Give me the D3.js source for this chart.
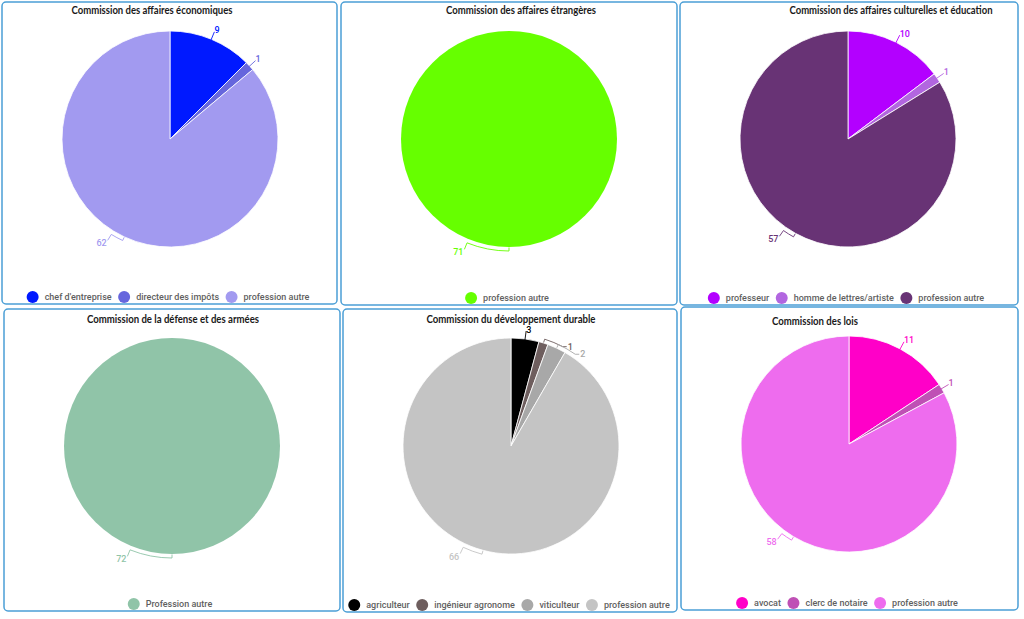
<!DOCTYPE html>
<html><head><meta charset="utf-8">
<script src="https://cdn.jsdelivr.net/npm/d3@7"></script>
<style>body{margin:0;background:#fff;} svg{display:block}</style>
</head><body>
<svg id="c" width="1024" height="619"></svg>
<script>
const titles = [
  "Commission des affaires économiques",
  "Commission des affaires étrangères",
  "Commission des affaires culturelles et éducation",
  "Commission de la défense et des armées",
  "Commission du développement durable",
  "Commission des lois"
];
const ecoCategories = ["chef d'entreprise", "directeur des impôts", "profession autre"];
const ecoValues = [9, 1, 62];
const ecoColors = ["#0019ff", "#6666dd", "#a29af0"];

const etrCategories = ["profession autre"];
const etrValues = [71];
const etrColors = ["#66ff00"];

const culCategories = ["professeur", "homme de lettres/artiste", "profession autre"];
const culValues = [10, 1, 57];
const culColors = ["#b300ff", "#b266e0", "#683375"];

const defCategories = ["Profession autre"];
const defValues = [72];
const defColors = ["#90c4a8"];

const durCategories = ["agriculteur", "ingénieur agronome", "viticulteur", "profession autre"];
const durValues = [3, 1, 2, 66];
const durColors = ["#000000", "#6e5e5e", "#a8a8a8", "#c4c4c4"];

const loisCategories = ["avocat", "clerc de notaire", "profession autre"];
const loisValues = [11, 1, 58];
const loisColors = ["#ff00c8", "#bf50b5", "#ee6cee"];

// layout (panel boxes, title placement)
const layout = [
  {x:2,   y:2,   w:335, h:302, tx:152, ty:14,  tw:161},
  {x:341, y:2,   w:336, h:303, tx:521, ty:14,  tw:150},
  {x:680, y:2,   w:338, h:303, tx:891, ty:14,  tw:203},
  {x:4,   y:309, w:336, h:302, tx:173, ty:323, tw:172},
  {x:343, y:309, w:334, h:303, tx:511, ty:323, tw:169},
  {x:681, y:307, w:337, h:303, tx:815, ty:325, tw:86}
];

const charts = [
  {cats: ecoCategories, vals: ecoValues, cols: ecoColors},
  {cats: etrCategories, vals: etrValues, cols: etrColors},
  {cats: culCategories, vals: culValues, cols: culColors},
  {cats: defCategories, vals: defValues, cols: defColors},
  {cats: durCategories, vals: durValues, cols: durColors},
  {cats: loisCategories, vals: loisValues, cols: loisColors}
];

const svg = d3.select("#c");
const R = 108;
const deg = Math.PI / 180;
const pt = (a, rr) => [rr * Math.sin(a), -rr * Math.cos(a)];

charts.forEach((ch, k) => {
  const L = layout[k];
  svg.append("rect")
    .attr("x", L.x).attr("y", L.y).attr("width", L.w).attr("height", L.h)
    .attr("rx", 4).attr("fill", "#fff")
    .attr("stroke", "#4b9fd6").attr("stroke-width", 1.5);

  svg.append("text")
    .attr("x", L.tx).attr("y", L.ty)
    .attr("text-anchor", "middle")
    .attr("font-family", "Lato, 'Open Sans', sans-serif")
    .attr("font-weight", "bold").attr("font-size", 11)
    .attr("textLength", L.tw).attr("lengthAdjust", "spacingAndGlyphs")
    .attr("fill", "#1a1a1a")
    .text(titles[k]);

  const cx = L.x + 168, cy = L.y + 137;
  const g = svg.append("g").attr("transform", `translate(${cx},${cy})`);
  const color = d3.scaleOrdinal().domain(ch.cats).range(ch.cols);
  const data = ch.cats.map((c, i) => ({cat: c, val: ch.vals[i]}));
  const pie = d3.pie().value(d => d.val).sort(null);
  const arcs = pie(data);
  const arc = d3.arc().innerRadius(0).outerRadius(R);

  g.selectAll("path.slice").data(arcs).enter().append("path")
    .attr("class", "slice")
    .attr("d", arc)
    .attr("fill", d => color(d.data.cat))
    .attr("stroke", "#fff").attr("stroke-width", arcs.length > 1 ? 0.8 : 0);

  // labels
  let prevMid = -10;
  arcs.forEach((d, i) => {
    const m = (d.startAngle + d.endAngle) / 2;
    const span = (d.endAngle - d.startAngle) / deg;
    const col = color(d.data.cat);
    const crowded = i > 0 && (m - prevMid) / deg < 15;
    prevMid = m;
    const lab = g.append("text")
      .attr("font-family", "Roboto, sans-serif").attr("font-size", 9)
      .attr("font-weight", 500).attr("fill", col)
      .text(d.data.val);
    if (span > 180 || crowded) {
      const delta = span > 180 ? (6 + 16 * Math.pow(Math.max(0, span - 298) / 62, 2)) : 10;
      const a2 = m + delta * deg;
      const p0 = pt(m, R + 0.5), p1 = pt(m, R + 4), p2 = pt(a2, R + 4);
      const left = Math.sin(a2) < 0;
      let p3, tx, ty, anchor;
      if (left) {
        p3 = pt(a2, R + 11);
        tx = p3[0] - 1; ty = p3[1] + 6; anchor = "end";
      } else {
        p3 = [p2[0] + 4, p2[1]];
        tx = p3[0] + 1; ty = p3[1] + 3; anchor = "start";
      }
      g.append("path")
        .attr("d", `M${p0}L${p1}A${R + 4},${R + 4} 0 0 1 ${p2}L${p3}`)
        .attr("fill", "none").attr("stroke", col).attr("stroke-width", 0.9);
      lab.attr("x", tx).attr("y", ty).attr("text-anchor", anchor);
    } else {
      const p0 = pt(m, R - 1), p1 = pt(m, R + 8);
      g.append("line")
        .attr("x1", p0[0]).attr("y1", p0[1]).attr("x2", p1[0]).attr("y2", p1[1])
        .attr("stroke", col).attr("stroke-width", 0.9);
      lab.attr("x", p1[0]).attr("y", p1[1] + 1.5).attr("text-anchor", "start");
    }
  });

  // legend
  const lg = svg.append("g");
  const ly = L.y + L.h - 7;
  let xCur = 0;
  const items = [];
  ch.cats.forEach((c, i) => {
    const it = lg.append("g");
    it.append("circle").attr("cx", xCur).attr("cy", ly).attr("r", 6).attr("fill", color(c));
    const t = it.append("text").attr("x", xCur + 12).attr("y", ly + 3.3)
      .attr("font-family", "Roboto, sans-serif").attr("font-size", 9)
      .attr("font-weight", 500).attr("fill", "#5f5f5f").text(c);
    const w = t.node().getComputedTextLength();
    xCur = xCur + 12 + w + 12.5;
  });
  const total = xCur - 12.5 + 6; // from circle left edge to last text end
  lg.attr("transform", `translate(${cx - 2 - total / 2 + 6},0)`);
});
</script>
</body></html>
